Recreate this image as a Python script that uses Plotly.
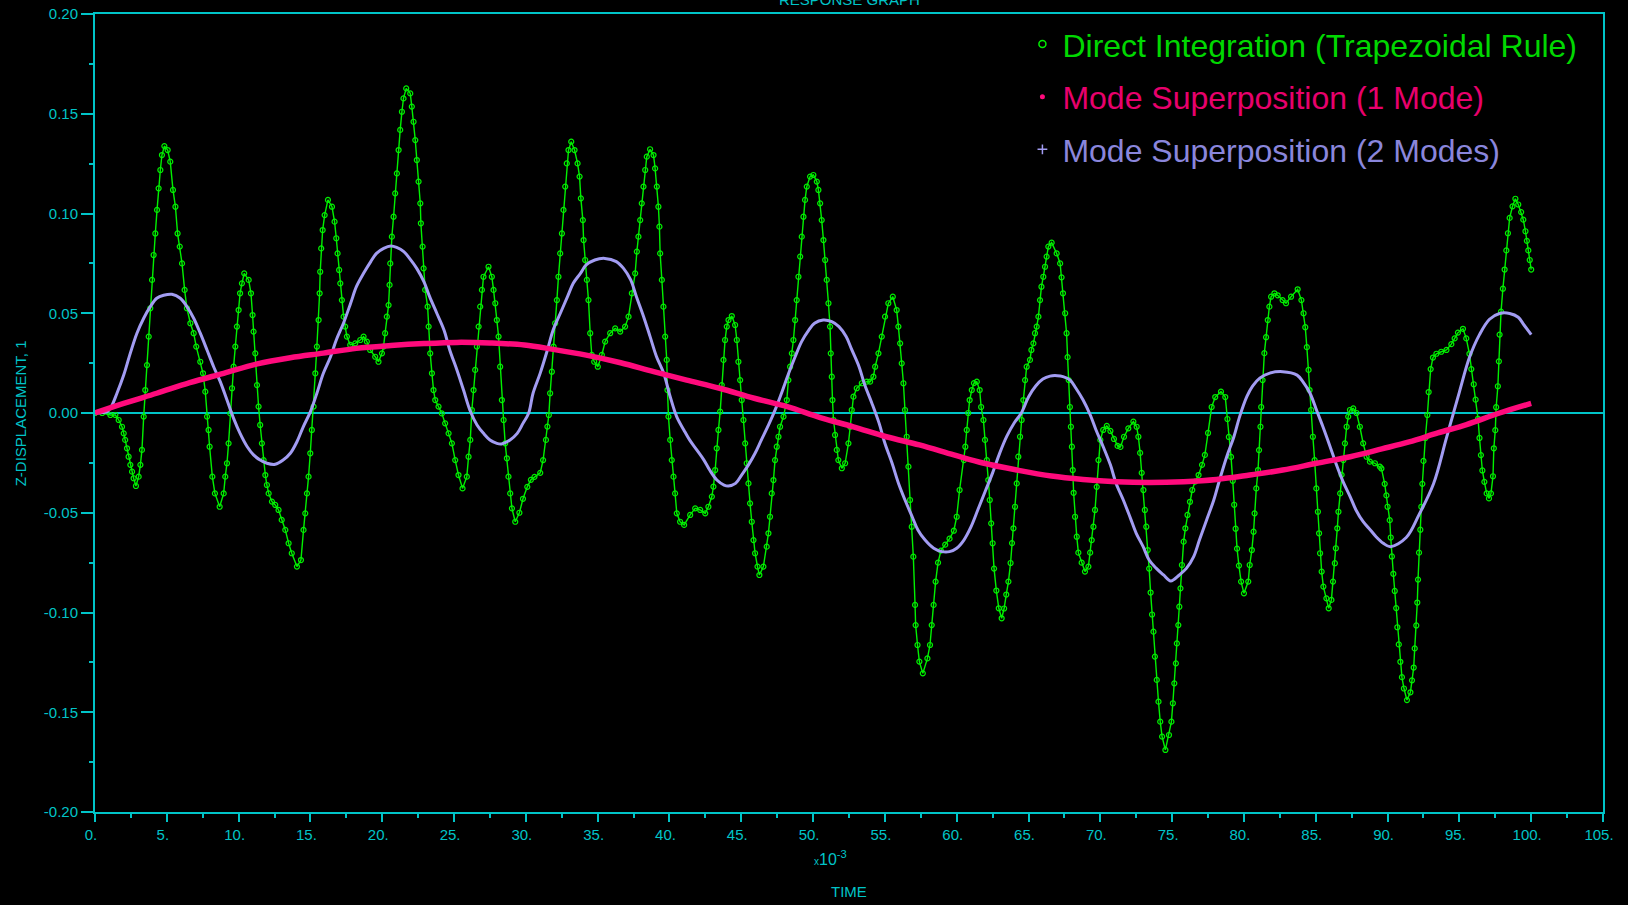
import plotly.graph_objects as go

# ---------------- data (time in units of 1e-3 s) ----------------
green_t = [0.0, 0.5, 1.07, 1.42, 1.65, 1.88, 2.0, 2.1, 2.23, 2.34, 2.46, 2.58, 2.69, 2.85,
           3.04, 3.16, 3.27, 3.39, 3.5, 3.62, 3.74, 3.85, 3.97, 4.08, 4.2, 4.32, 4.43, 4.55, 4.66, 4.83,
           5.06, 5.24, 5.43, 5.6, 5.75, 5.9, 6.06, 6.24, 6.4, 6.64, 6.87, 7.05, 7.33, 7.52, 7.68, 7.8,
           7.91, 7.98, 8.17, 8.35, 8.68, 8.96, 9.07, 9.19, 9.3, 9.42, 9.54, 9.65, 9.77, 9.88, 10.0,
           10.1, 10.23, 10.39, 10.7, 10.86, 10.97, 11.04, 11.16, 11.28, 11.39, 11.5, 11.62, 11.74,
           11.86, 11.97, 12.09, 12.32, 12.55, 12.78, 13.0, 13.25, 13.48, 13.7, 14.06, 14.34, 14.52,
           14.64, 14.76, 14.87, 14.99, 15.1, 15.22, 15.34, 15.45, 15.57, 15.64, 15.68, 15.75, 15.85,
           15.99, 16.22, 16.5, 16.68, 16.8, 16.89, 17.0, 17.08, 17.19, 17.31, 17.42, 17.54, 17.77,
           18.12, 18.47, 18.7, 18.93, 19.16, 19.51, 19.74, 19.98, 20.09, 20.2, 20.32, 20.44, 20.51,
           20.56, 20.67, 20.79, 20.9, 21.02, 21.14, 21.25, 21.37, 21.48, 21.67, 21.95, 22.06, 22.18,
           22.3, 22.41, 22.53, 22.65, 22.69, 22.81, 22.88, 22.99, 23.16, 23.23, 23.34, 23.46, 23.57,
           23.69, 23.92, 24.15, 24.38, 24.62, 24.85, 25.08, 25.31, 25.59, 25.89, 26.01, 26.13, 26.24,
           26.36, 26.47, 26.59, 26.71, 26.82, 26.94, 27.05, 27.4, 27.63, 27.75, 27.87, 27.98, 28.1,
           28.21, 28.33, 28.45, 28.56, 28.68, 28.79, 28.91, 29.03, 29.26, 29.55, 29.8, 30.1, 30.35,
           30.6, 31.0, 31.2, 31.4, 31.5, 31.6, 31.69, 31.81, 31.93, 32.04, 32.16, 32.27, 32.39, 32.51,
           32.62, 32.74, 32.85, 32.97, 33.16, 33.39, 33.6, 33.74, 33.83, 33.97, 34.02, 34.13, 34.25,
           34.36, 34.48, 34.59, 34.76, 35.01, 35.29, 35.52, 35.87, 36.22, 36.57, 36.91, 37.15, 37.38,
           37.61, 37.73, 37.84, 37.96, 38.07, 38.19, 38.31, 38.42, 38.65, 38.89, 39.0, 39.12, 39.23,
           39.3, 39.35, 39.47, 39.58, 39.7, 39.81, 39.86, 39.93, 40.05, 40.16, 40.28, 40.39, 40.51,
           40.74, 41.02, 41.44, 41.79, 42.14, 42.49, 42.71, 42.95, 43.06, 43.18, 43.29, 43.41, 43.53,
           43.64, 43.76, 43.87, 43.99, 44.11, 44.34, 44.57, 44.69, 44.8, 44.92, 45.03, 45.15, 45.27,
           45.38, 45.5, 45.61, 45.73, 45.85, 45.96, 46.13, 46.26, 46.54, 46.77, 46.89, 47.0, 47.12,
           47.24, 47.35, 47.47, 47.59, 47.7, 47.94, 48.17, 48.28, 48.4, 48.52, 48.63, 48.75, 48.86,
           48.98, 49.1, 49.21, 49.33, 49.44, 49.56, 49.79, 50.02, 50.26, 50.37, 50.49, 50.6, 50.72,
           50.84, 50.95, 51.07, 51.18, 51.23, 51.3, 51.35, 51.42, 51.53, 51.65, 51.76, 52.0, 52.23,
           52.46, 52.58, 52.69, 52.81, 53.04, 53.39, 53.74, 53.97, 54.2, 54.32, 54.55, 54.78, 55.01,
           55.24, 55.55, 55.82, 55.94, 56.06, 56.17, 56.29, 56.4, 56.52, 56.64, 56.75, 56.87, 56.98,
           57.1, 57.14, 57.27, 57.4, 57.64, 57.96, 58.14, 58.26, 58.39, 58.53, 58.7, 58.9, 59.2, 59.5,
           59.8, 60.0, 60.2, 60.5, 60.6, 60.7, 60.8, 60.9, 61.05, 61.2, 61.4, 61.6, 61.7, 61.86, 61.97,
           62.1, 62.2, 62.3, 62.4, 62.5, 62.6, 62.76, 62.93, 63.13, 63.3, 63.45, 63.6, 63.75, 63.85,
           63.95, 64.06, 64.18, 64.29, 64.41, 64.52, 64.64, 64.76, 64.87, 65.1, 65.2, 65.34, 65.45,
           65.57, 65.69, 65.8, 65.9, 66.03, 66.15, 66.26, 66.38, 66.61, 66.96, 67.2, 67.3, 67.4, 67.55,
           67.65, 67.72, 67.8, 67.88, 67.95, 68.02, 68.08, 68.14, 68.24, 68.36, 68.47, 68.7, 68.93,
           69.17, 69.29, 69.4, 69.52, 69.63, 69.75, 69.87, 70.0, 70.2, 70.45, 70.7, 70.95, 71.2, 71.4,
           71.65, 71.95, 72.3, 72.53, 72.65, 72.77, 72.88, 73.0, 73.1, 73.2, 73.3, 73.4, 73.5, 73.6,
           73.7, 73.8, 73.93, 74.05, 74.17, 74.3, 74.53, 74.78, 74.95, 75.05, 75.15, 75.26, 75.33,
           75.43, 75.5, 75.58, 75.68, 75.8, 75.92, 76.07, 76.24, 76.4, 76.6, 76.84, 77.08, 77.28,
           77.5, 77.75, 78.0, 78.4, 78.7, 78.85, 78.95, 79.1, 79.22, 79.32, 79.42, 79.52, 79.65,
           79.8, 80.0, 80.3, 80.4, 80.55, 80.67, 80.74, 80.86, 80.98, 81.05, 81.15, 81.2, 81.3,
           81.42, 81.54, 81.66, 81.77, 81.89, 82.12, 82.35, 82.69, 82.93, 83.28, 83.74, 84.0, 84.15,
           84.27, 84.38, 84.5, 84.57, 84.68, 84.8, 84.92, 85.04, 85.15, 85.23, 85.3, 85.41, 85.53,
           85.74, 85.9, 86.09, 86.2, 86.33, 86.4, 86.5, 86.58, 86.7, 86.8, 86.92, 87.03, 87.15, 87.26,
           87.38, 87.61, 87.84, 88.07, 88.3, 88.54, 88.77, 89.12, 89.46, 89.57, 89.8, 89.92, 90.0,
           90.15, 90.22, 90.3, 90.4, 90.5, 90.6, 90.68, 90.78, 90.89, 91.0, 91.14, 91.35, 91.59, 91.7,
           91.82, 91.89, 92.0, 92.07, 92.12, 92.19, 92.28, 92.35, 92.42, 92.5, 92.63, 92.77, 92.86,
           93.0, 93.16, 93.4, 93.74, 94.1, 94.44, 94.67, 94.9, 95.25, 95.48, 95.7, 95.83, 96.0, 96.13,
           96.3, 96.4, 96.5, 96.6, 96.74, 96.9, 97.06, 97.2, 97.34, 97.4, 97.5, 97.56, 97.68, 97.75,
           97.8, 97.9, 98.03, 98.15, 98.27, 98.38, 98.5, 98.7, 98.9, 99.1, 99.3, 99.45, 99.6, 99.7,
           99.8, 99.9, 100.0]
green_y = [0.0, 0.0, -0.001, -0.001, -0.0035, -0.0069, -0.0102, -0.0135, -0.0177, -0.0219, -0.026, -0.0294, -0.0327, -0.0366,
           -0.0319, -0.026, -0.0185, -0.0018, 0.0115, 0.024, 0.0383, 0.0525, 0.0667, 0.0792, 0.09, 0.1018, 0.1126, 0.1218, 0.1293, 0.1338,
           0.1318, 0.126, 0.1118, 0.1034, 0.09, 0.0834, 0.075, 0.0617, 0.0525, 0.045, 0.04, 0.0333, 0.0257, 0.0199, 0.0107, -0.0018,
           -0.0085, -0.0169, -0.0319, -0.0403, -0.047, -0.0403, -0.0319, -0.0252, -0.0152, -0.0002, 0.0124, 0.0232, 0.0333, 0.0433, 0.0516,
           0.06, 0.065, 0.07, 0.0667, 0.06, 0.0491, 0.0408, 0.0299, 0.014, 0.0032, -0.006, -0.0152, -0.0236,
           -0.0311, -0.0361, -0.0403, -0.0444, -0.0461, -0.0486, -0.0536, -0.0586, -0.0653, -0.0703, -0.077, -0.0737, -0.0586,
           -0.0503, -0.0403, -0.0319, -0.0202, -0.0085, 0.0032, 0.0199, 0.0333, 0.0466, 0.06, 0.0708, 0.0825, 0.0917,
           0.0992, 0.1068, 0.1034, 0.0959, 0.0876, 0.08, 0.0717, 0.065, 0.0566, 0.0483, 0.0433, 0.0383, 0.0341,
           0.0349, 0.0366, 0.0383, 0.0358, 0.0316, 0.0282, 0.0257, 0.0299, 0.0333, 0.04, 0.0483, 0.0541, 0.0642,
           0.075, 0.0884, 0.0984, 0.1101, 0.1201, 0.1318, 0.1419, 0.151, 0.1577, 0.1627, 0.1602, 0.1536, 0.146,
           0.1368, 0.1268, 0.116, 0.1051, 0.0951, 0.0834, 0.0725, 0.0617, 0.0533, 0.0433, 0.0299, 0.0199, 0.0115,
           0.0065, 0.0032, -0.0002, -0.0052, -0.0102, -0.0152, -0.0236, -0.0311, -0.0378, -0.0319, -0.0219, -0.0135, 0.0015,
           0.0115, 0.0216, 0.0333, 0.0433, 0.0533, 0.0617, 0.0683, 0.0733, 0.0683, 0.0617, 0.055, 0.0466, 0.0383,
           0.0232, 0.0065, -0.0035, -0.0152, -0.0227, -0.0319, -0.0403, -0.0478, -0.0545, -0.05, -0.043, -0.037, -0.0335,
           -0.032, -0.03, -0.0236, -0.0135, -0.0068, -0.001, 0.0099, 0.0207, 0.0333, 0.045, 0.0566, 0.0683, 0.08, 0.09,
           0.1018, 0.1135, 0.1251, 0.1318, 0.136, 0.1318, 0.1251, 0.1185, 0.1076, 0.0967, 0.0867, 0.0767, 0.0667,
           0.0566, 0.04, 0.0291, 0.0257, 0.0232, 0.0291, 0.0358, 0.04, 0.0424, 0.0408, 0.0433, 0.0483, 0.06,
           0.07, 0.0809, 0.0884, 0.0967, 0.1051, 0.1135, 0.1218, 0.1285, 0.1322, 0.1293, 0.1226, 0.1135, 0.1034,
           0.0934, 0.08, 0.0667, 0.0533, 0.0383, 0.0266, 0.0115, -0.0018, -0.0135, -0.0236, -0.0319, -0.0403, -0.0503,
           -0.0545, -0.0561, -0.0511, -0.0478, -0.0486, -0.0503, -0.047, -0.0419, -0.0369, -0.0286, -0.0177, -0.0085, 0.0007,
           0.014, 0.0266, 0.0366, 0.0433, 0.0466, 0.0486, 0.0441, 0.0366, 0.0257, 0.0165, 0.0065, -0.0035, -0.0152,
           -0.0252, -0.0353, -0.0453, -0.0545, -0.0637, -0.0703, -0.077, -0.0812, -0.077, -0.067, -0.0603, -0.052, -0.0403,
           -0.0336, -0.0236, -0.0169, -0.0119, -0.0069, -0.0018, 0.0065, 0.0165, 0.0232, 0.0299, 0.0366, 0.0466, 0.0566,
           0.0683, 0.0784, 0.0884, 0.0984, 0.1068, 0.1135, 0.1185, 0.1193, 0.116, 0.1118, 0.1051, 0.0967, 0.0867,
           0.0767, 0.0667, 0.055, 0.0433, 0.0299, 0.0182, 0.0065, -0.0035, -0.011, -0.0185, -0.0236, -0.0277, -0.0252,
           -0.0152, -0.0069, 0.0015, 0.0082, 0.0124, 0.0149, 0.0157, 0.0157, 0.0182, 0.0232, 0.0299, 0.0383, 0.0483,
           0.055, 0.0583, 0.0516, 0.0433, 0.0349, 0.0249, 0.0149, 0.0015, -0.0119, -0.0269, -0.0436, -0.057, -0.072,
           -0.0962, -0.1063, -0.1163, -0.1246, -0.1305, -0.123, -0.1163, -0.1063, -0.0962, -0.0845, -0.075, -0.069, -0.066, -0.063,
           -0.059, -0.052, -0.0386, -0.0236, -0.0169, -0.0085, 0.0, 0.0065, 0.0115, 0.015, 0.0157, 0.0115, 0.003, -0.0035, -0.0135,
           -0.0236, -0.0336, -0.0436, -0.0553, -0.0653, -0.078, -0.089, -0.0979, -0.1029, -0.098, -0.091, -0.0845, -0.0752, -0.0652,
           -0.0578, -0.047, -0.0353, -0.0219, -0.0119, -0.0035, 0.0065, 0.0165, 0.0232, 0.0266, 0.0316, 0.0349, 0.04,
           0.0433, 0.0483, 0.0566, 0.0633, 0.0683, 0.0733, 0.0784, 0.0834, 0.0854, 0.08, 0.075, 0.068, 0.06, 0.05,
           0.04, 0.028, 0.0165, 0.003, -0.0069, -0.0169, -0.0286, -0.04, -0.052, -0.062, -0.07, -0.075, -0.0795,
           -0.077, -0.07, -0.0637, -0.057, -0.0486, -0.037, -0.0236, -0.0135, -0.0085, -0.0065, -0.009, -0.013, -0.0165, -0.017,
           -0.0119, -0.0077, -0.0043, -0.0069, -0.0119, -0.02, -0.03, -0.0386, -0.0486, -0.057, -0.0687, -0.078, -0.09, -0.101,
           -0.1096, -0.1221, -0.1338, -0.1447, -0.1547, -0.1622, -0.1689, -0.1614, -0.1547, -0.1455, -0.1355, -0.1255, -0.1155,
           -0.1063, -0.0971, -0.0879, -0.0762, -0.0645, -0.0578, -0.0511, -0.0445, -0.0386, -0.0344, -0.0311, -0.026, -0.021,
           -0.01, 0.003, 0.008, 0.0107, 0.008, -0.003, -0.012, -0.022, -0.034, -0.046, -0.058, -0.068, -0.0765,
           -0.0845, -0.0904, -0.0845, -0.0762, -0.0687, -0.0595, -0.0503, -0.0378, -0.0286, -0.0186, -0.0069, 0.003, 0.0165,
           0.03, 0.038, 0.0466, 0.0533, 0.0583, 0.06, 0.059, 0.0566, 0.055, 0.0583, 0.062, 0.0566, 0.05,
           0.043, 0.033, 0.0216, 0.0115, 0.0015, -0.0119, -0.0236, -0.0378, -0.0495, -0.0603, -0.0703, -0.0795, -0.087,
           -0.0929, -0.0979, -0.0937, -0.0845, -0.0753, -0.0678, -0.0578, -0.0495, -0.0403, -0.031, -0.0236, -0.0152, -0.0069, -0.0018,
           0.0015, 0.0023, 0.0, -0.0069, -0.0152, -0.0219, -0.0244, -0.0252, -0.0269, -0.0278, -0.0355, -0.0413, -0.047,
           -0.0537, -0.0624, -0.0719, -0.0806, -0.0892, -0.0978, -0.1074, -0.116, -0.1247, -0.1324, -0.1381, -0.1439, -0.14, -0.134,
           -0.1276, -0.118, -0.1065, -0.095, -0.0835, -0.07, -0.0585, -0.047, -0.0355, -0.024, -0.0125, -0.001, 0.0105,
           0.022, 0.0278, 0.0297, 0.0307, 0.0316, 0.0345, 0.0374, 0.0403, 0.0422, 0.0374, 0.0297, 0.022, 0.0144, 0.0067,
           -0.0029, -0.0125, -0.0211, -0.0288, -0.0345, -0.0403, -0.0428, -0.0403, -0.0317, -0.0177, -0.0086, 0.0029, 0.0134, 0.0259,
           0.0393, 0.0508, 0.0623, 0.0719, 0.0815, 0.0901, 0.0978, 0.1036, 0.1074, 0.1045, 0.1007, 0.0969, 0.0911, 0.0863,
           0.0815, 0.0767, 0.0719]

pink_t = [0.0, 2.0, 4.3, 6.6, 8.96, 11.3, 13.6, 15.9, 18.2, 20.6, 22.9, 25.2, 27.5, 29.9, 31.9, 34.2,
          36.6, 38.9, 41.2, 43.5, 45.9, 48.2, 50.5, 52.8, 55.1, 57.4, 59.8, 61.9, 64.2, 66.6, 68.8,
          71.1, 73.4, 75.8, 78.1, 80.4, 82.7, 85.05, 87.4, 89.6, 91.5, 93.5, 95.5, 97.8, 100.0]
pink_y = [0.0, 0.0048, 0.0099, 0.0152, 0.0199, 0.0246, 0.0277, 0.030, 0.0324, 0.0338, 0.0348, 0.0354,
          0.0351, 0.0341, 0.0319, 0.029, 0.0252, 0.0207, 0.0165, 0.0124, 0.0074, 0.0032, -0.0023,
          -0.0069, -0.0119, -0.016, -0.021, -0.0252, -0.0286, -0.0316, -0.0333, -0.0344, -0.0348,
          -0.0344, -0.0333, -0.0311, -0.0286, -0.0252, -0.0219, -0.018, -0.0145, -0.010, -0.0058,
          0.0, 0.0048]

lav_t = [0.0, 0.8, 1.07, 1.53, 2.0, 2.46, 2.92, 3.39, 3.85, 4.3, 4.78, 5.36, 5.94, 6.4, 6.87, 7.33,
         7.8, 8.26, 8.72, 9.19, 9.65, 10.1, 10.6, 11.04, 11.5, 11.97, 12.55, 13.1, 13.6, 14.06, 14.5,
         15.0, 15.45, 15.9, 16.4, 16.8, 17.3, 17.8, 18.2, 18.7, 19.2, 19.6, 20.1, 20.6, 21.0, 21.5,
         21.9, 22.4, 22.9, 23.3, 23.8, 24.3, 24.7, 25.2, 25.66, 26.1, 26.6, 27.05, 27.5, 27.98, 28.3,
         28.9, 29.4, 29.8, 30.2, 30.5, 31.0, 31.5, 31.9, 32.4, 32.9, 33.3, 33.8, 34.2, 34.8, 35.5,
         36.3, 36.8, 37.3, 37.7, 38.2, 38.65, 39.1, 39.6, 40.05, 40.5, 41.0, 41.4, 41.9, 42.4, 42.8,
         43.3, 43.8, 44.1, 44.6, 45.03, 45.5, 45.96, 46.4, 46.9, 47.4, 47.8, 48.3, 48.75, 49.2, 49.7,
         50.1, 50.7, 51.3, 51.8, 52.3, 52.7, 53.2, 53.6, 54.1, 54.6, 55.0, 55.5, 55.95, 56.4, 56.9,
         57.3, 57.8, 58.4, 58.97, 59.5, 60.0, 60.5, 61.0, 61.5, 62.0, 62.5, 63.0, 63.5, 64.0, 64.5,
         65.0, 65.5, 66.0, 66.5, 67.0, 67.4, 67.9, 68.3, 68.8, 69.3, 69.7, 70.2, 70.7, 71.1, 71.6,
         72.1, 72.5, 72.98, 73.4, 73.9, 74.4, 74.9, 75.5, 75.99, 76.5, 76.9, 77.4, 77.9, 78.3, 78.8,
         79.3, 79.7, 80.2, 80.6, 81.1, 81.8, 82.7, 83.7, 84.1, 84.6, 85.05, 85.5, 86.0, 86.4, 86.9,
         87.4, 87.8, 88.3, 88.8, 89.2, 89.7, 90.2, 91.3, 92.2, 93.2, 94.1, 95.0, 95.7, 96.4, 97.1,
         97.8, 98.5, 99.1, 99.5, 100.0]
lav_y = [0.0, 0.0005, 0.0023, 0.0099, 0.019, 0.030, 0.040, 0.0475, 0.0533, 0.0575, 0.059, 0.0595,
         0.0575, 0.0533, 0.0475, 0.040, 0.0316, 0.0232, 0.0157, 0.0065, -0.0027, -0.0102, -0.0169,
         -0.021, -0.0236, -0.0252, -0.0257, -0.0236, -0.0202, -0.0144, -0.0069, 0.0007, 0.0099,
         0.0199, 0.0282, 0.0366, 0.045, 0.055, 0.0633, 0.070, 0.0759, 0.080, 0.0825, 0.0837, 0.083,
         0.0809, 0.0775, 0.0725, 0.0658, 0.0583, 0.050, 0.0416, 0.0316, 0.0216, 0.0115, 0.0015,
         -0.006, -0.0102, -0.0135, -0.0152, -0.0155, -0.0135, -0.0102, -0.0052, 0.0, 0.0099, 0.020,
         0.0316, 0.0416, 0.050, 0.0583, 0.065, 0.070, 0.0742, 0.0767, 0.0775, 0.0759, 0.0725,
         0.0667, 0.0583, 0.0483, 0.0383, 0.0282, 0.0199, 0.0082, -0.0018, -0.0085, -0.0135,
         -0.0185, -0.0236, -0.0286, -0.0336, -0.0361, -0.0366, -0.0353, -0.031, -0.026, -0.0202,
         -0.0135, -0.006, 0.0023, 0.0099, 0.0199, 0.0282, 0.0358, 0.0416, 0.045, 0.0466, 0.0458,
         0.0433, 0.0383, 0.0316, 0.0232, 0.014, 0.0048, -0.0052, -0.0152, -0.0252, -0.0353,
         -0.0436, -0.052, -0.0586, -0.0637, -0.0678, -0.0695, -0.0695, -0.0678, -0.0637, -0.057,
         -0.048, -0.039, -0.030, -0.020, -0.0115, -0.005, 0.0, 0.008, 0.0135, 0.017, 0.0185,
         0.0187, 0.0182, 0.0165, 0.0124, 0.0065, -0.001, -0.0085, -0.0169, -0.026, -0.0353,
         -0.0436, -0.0528, -0.0603, -0.067, -0.0737, -0.0779, -0.0812, -0.0842, -0.0812, -0.0779,
         -0.072, -0.0637, -0.0536, -0.0436, -0.0336, -0.0219, -0.0119, -0.0018, 0.0082, 0.0135,
         0.0175, 0.020, 0.0207, 0.019, 0.0157, 0.0099, 0.0015, -0.0069, -0.0169, -0.0252, -0.0344,
         -0.042, -0.0486, -0.0545, -0.0586, -0.062, -0.0653, -0.067, -0.0624, -0.0508, -0.0355,
         -0.0125, 0.0105, 0.0278, 0.0393, 0.047, 0.0499, 0.0499, 0.048, 0.0441, 0.0393]

x_tickvals = [0, 5, 10, 15, 20, 25, 30, 35, 40, 45, 50, 55, 60, 65, 70, 75, 80, 85, 90, 95, 100, 105]
x_ticktext = ["0.", "5.", "10.", "15.", "20.", "25.", "30.", "35.", "40.", "45.", "50.", "55.",
              "60.", "65.", "70.", "75.", "80.", "85.", "90.", "95.", "100.", "105."]
y_tickvals = [0.20, 0.15, 0.10, 0.05, 0.0, -0.05, -0.10, -0.15, -0.20]
y_ticktext = ["0.20", "0.15", "0.10", "0.05", "0.00", "-0.05", "-0.10", "-0.15", "-0.20"]

series_names = ["Direct Integration (Trapezoidal Rule)", "Mode Superposition (1 Mode)",
                "Mode Superposition (2 Modes)"]

# ---------------- style ----------------
CYAN = "#00C4C8"
GREEN = "#00F000"
GREEN_TXT = "#00D800"
PINK = "#FF0A7C"
PINK_TXT = "#E8006C"
LAV = "#A29CF2"
LAV_TXT = "#8A86DC"
FONT = "Liberation Sans, Arial, sans-serif"

W, H = 1628, 905
ML, MR, MT, MB = 94.6, 25, 14, 93

fig = go.Figure()

fig.add_trace(go.Scatter(
    x=green_t, y=green_y, mode="lines+markers", showlegend=False,
    line=dict(color=GREEN, width=1.4),
    marker=dict(symbol="circle-open", size=5, color=GREEN, line=dict(width=1.2, color=GREEN)),
))
fig.add_trace(go.Scatter(
    x=lav_t, y=lav_y, mode="lines", showlegend=False, line_shape="spline",
    line=dict(color=LAV, width=3),
))
fig.add_trace(go.Scatter(
    x=pink_t, y=pink_y, mode="lines", showlegend=False, line_shape="spline",
    line=dict(color=PINK, width=5.5),
))

# legend entries (symbol only, like the original)
leg_specs = [
    (series_names[0], GREEN_TXT, dict(symbol="circle-open", size=7, color=GREEN, line=dict(width=1.5, color=GREEN))),
    (series_names[1], PINK_TXT, dict(symbol="circle", size=5, color=PINK)),
    (series_names[2], LAV_TXT, dict(symbol="cross-thin", size=7, color=LAV, line=dict(width=1.5, color=LAV))),
]
for i, (name, col, mk) in enumerate(leg_specs):
    fig.add_trace(go.Scatter(
        x=[None], y=[None], mode="markers", marker=mk, legendgroup=f"g{i}",
        name=f"<span style='color:{col}'>{name}</span>",
    ))

axis_common = dict(
    showline=True, linecolor=CYAN, linewidth=2, mirror=True, showgrid=False,
    ticks="outside", tickcolor=CYAN, tickwidth=1.5, automargin=False,
    tickfont=dict(family=FONT, size=15, color=CYAN),
)

fig.update_layout(
    width=W, height=H,
    margin=dict(l=ML, r=MR, t=MT, b=MB, pad=0, autoexpand=False),
    paper_bgcolor="black", plot_bgcolor="black",
    font=dict(family=FONT, color=CYAN),
    xaxis=dict(
        range=[0, 105], tickvals=x_tickvals, ticktext=x_ticktext, ticklen=8,
        zeroline=False, ticklabelshift=-4,
        minor=dict(dtick=2.5, tick0=0, ticklen=4, ticks="outside", tickcolor=CYAN, tickwidth=1.5),
        **axis_common,
    ),
    yaxis=dict(
        range=[-0.2, 0.2], tickvals=y_tickvals, ticktext=y_ticktext, ticklen=12,
        zeroline=True, zerolinecolor=CYAN, zerolinewidth=1.5, ticklabelstandoff=0,
        minor=dict(dtick=0.025, tick0=0, ticklen=4, ticks="outside", tickcolor=CYAN, tickwidth=1.5),
        **axis_common,
    ),
    legend=dict(
        x=0.615, y=0.9965, xanchor="left", yanchor="top",
        bgcolor="rgba(0,0,0,0)", borderwidth=0,
        font=dict(family=FONT, size=32, color=GREEN_TXT),
        tracegroupgap=8, traceorder="grouped", itemwidth=30,
    ),
    annotations=[
        dict(text="RESPONSE GRAPH", xref="paper", yref="paper", x=0.5, y=1.0056,
             xanchor="center", yanchor="bottom", showarrow=False,
             font=dict(family=FONT, size=15, color=CYAN)),
        dict(text="Z-DISPLACEMENT, 1", xref="paper", yref="paper", x=-0.0495, y=0.5,
             xanchor="center", yanchor="middle", textangle=-90, showarrow=False,
             font=dict(family=FONT, size=15, color=CYAN)),
        dict(text="<span style='font-size:10px'>x</span>10<sup>-3</sup>", xref="paper", yref="paper",
             x=0.488, y=-0.0576, xanchor="center", yanchor="middle", showarrow=False,
             font=dict(family=FONT, size=16, color=CYAN)),
        dict(text="TIME", xref="paper", yref="paper", x=0.5, y=-0.099,
             xanchor="center", yanchor="middle", showarrow=False,
             font=dict(family=FONT, size=15, color=CYAN)),
    ],
)

fig.write_html("out.html", config={"displayModeBar": False},
               post_script="document.body.style.margin='0';document.body.style.overflow='hidden';")
